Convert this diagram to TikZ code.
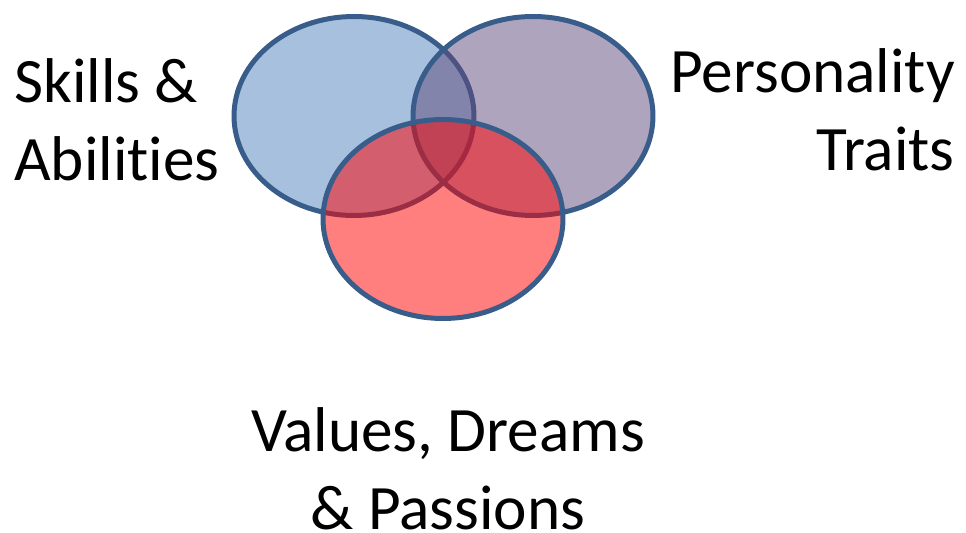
\documentclass[tikz,border=0pt]{standalone}
\usepackage{fontspec}
\setmainfont{Carlito}[Ligatures=NoCommon]
\usepackage{tikz}
\usetikzlibrary{shapes.geometric}

\definecolor{rimblue}{HTML}{385D8A}
\definecolor{setblue}{HTML}{4F81BD}
\definecolor{setpurple}{HTML}{604A7B}
\definecolor{setred}{HTML}{FF0000}

\begin{document}
\begin{tikzpicture}[
        x=0.02cm, y=-0.02cm,
        circ/.style={ellipse, draw=rimblue, line width=0.1cm, fill opacity=0.5,
            minimum width=4.8cm, minimum height=3.98cm, inner sep=0pt},
        label/.style={inner sep=0pt, font=\fontsize{36}{44.5}\selectfont},
    ]
    \useasboundingbox (0,0) rectangle (966,533);
    % the three sets, drawn back to front
    \node[circ, fill=setblue] (skills) at (354,116) {};
    \node[circ, fill=setpurple] (traits) at (533,116) {};
    \node[circ, fill=setred] (values) at (443,219) {};
    % captions
    \node[label, align=left, anchor=north west] (skillstext) at (14,58) {Skills \&\\Abilities};
    \node[label, align=right, anchor=north east] (traitstext) at (955,48) {Personality\\Traits};
    \node[label, align=center, anchor=north] (valuestext) at (448,407) {Values, Dreams\\\& Passions};
\end{tikzpicture}
\end{document}
